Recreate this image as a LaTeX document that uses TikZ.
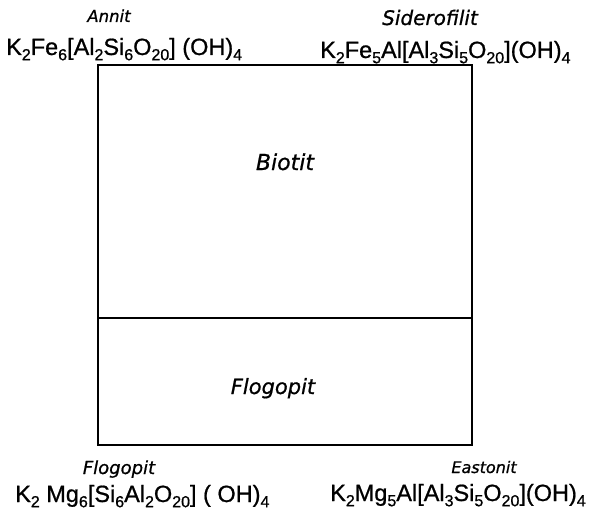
\documentclass[tikz,border=0pt]{standalone}
\usepackage{fontspec}
\setmainfont{Liberation Sans}[FakeBold=0.8]
\newfontfamily\labfont{DejaVu Sans}[FakeBold=0.8]
\newcommand{\lo}[1]{\raisebox{-0.42ex}{\fontsize{16}{16}\selectfont #1}}
\begin{document}
\begin{tikzpicture}[x=1pt,y=-1pt,
  formula/.style={inner sep=0pt, anchor=base west, font=\fontsize{23.5}{23.5}\selectfont},
  mname/.style={inner sep=0pt, anchor=base, font=\labfont\itshape},
  frame/.style={line width=2.6pt, line join=miter}]
\useasboundingbox (0,0) rectangle (597,511);
\coordinate (tl) at (98,65);
\coordinate (tr) at (472,65);
\coordinate (br) at (472,445);
\coordinate (bl) at (98,445);
\coordinate (ml) at (98,318);
\coordinate (mr) at (472,318);
\draw[frame] (tl) -- (tr) -- (br) -- (bl) -- cycle;
\draw[line width=2pt] (ml) -- (mr);
\node[mname, font=\labfont\itshape\fontsize{16.5}{16.5}\selectfont] (annit) at (109,22) {Annit};
\node[formula] (fa) at (6,55) {K\lo{2}Fe\lo{6}[Al\lo{2}Si\lo{6}O\lo{20}] (OH)\lo{4}};
\node[mname, font=\labfont\itshape\fontsize{20}{20}\selectfont] (sid) at (430,25) {Siderofilit};
\node[formula] (fs) at (320,58) {K\lo{2}Fe\lo{5}Al[Al\lo{3}Si\lo{5}O\lo{20}](OH)\lo{4}};
\node[mname, font=\labfont\itshape\fontsize{22}{22}\selectfont] (bio) at (285,170) {Biotit};
\node[mname, font=\labfont\itshape\fontsize{21}{21}\selectfont] (flo) at (273,394) {Flogopit};
\node[mname, font=\labfont\itshape\fontsize{18}{18}\selectfont] (flb) at (119,474) {Flogopit};
\node[formula] (ff) at (15,502) {K\lo{2} Mg\lo{6}[Si\lo{6}Al\lo{2}O\lo{20}] ( OH)\lo{4}};
\node[mname, font=\labfont\itshape\fontsize{16}{16}\selectfont] (eas) at (484,473) {Eastonit};
\node[formula] (fe) at (330,501) {K\lo{2}Mg\lo{5}Al[Al\lo{3}Si\lo{5}O\lo{20}](OH)\lo{4}};
\end{tikzpicture}
\end{document}
